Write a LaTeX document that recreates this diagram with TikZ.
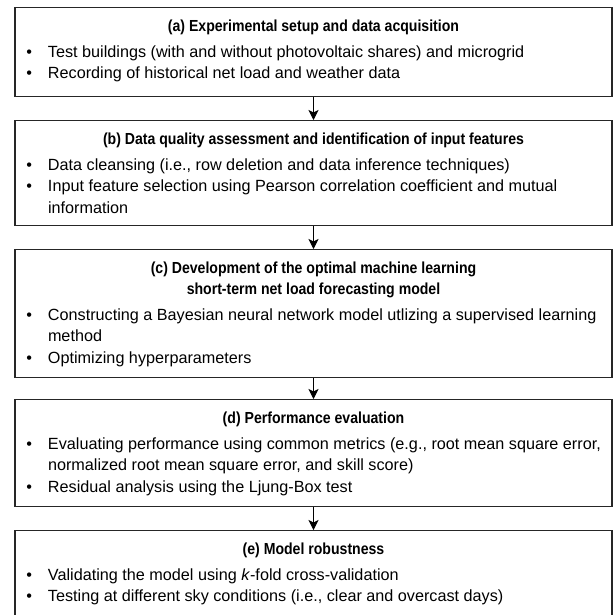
\documentclass[tikz,border=0pt]{standalone}
\usepackage{fontspec}
\setmainfont{Liberation Sans}
\newfontfamily\headfont[FakeStretch=0.88]{Liberation Sans}
\usetikzlibrary{arrows.meta}

% heading line of a stage box (centred, bold, slightly condensed)
\newcommand\stagehead[1]{{\centering\headfont\fontsize{16pt}{21pt}\selectfont\bfseries\rule{0pt}{23.5pt}#1\par}\vspace{4.5pt}}
% bulleted entry with hanging indent
\newcommand\stageitem[1]{\hangindent=33pt\hangafter=1\noindent\makebox[33pt][l]{\hspace{11.5pt}\textbullet}#1\par}
% complete contents of a stage box of given height
\newcommand\stagebody[2]{\parbox[t][#1][t]{597pt}{\fontsize{16.2pt}{21.5pt}\selectfont\raggedright\parindent=0pt #2}}

\tikzset{
  stagebox/.style={draw=black!85, line width=1.2pt, fill=white, inner sep=0pt, anchor=north},
  flow/.style={draw=black, line width=0.9pt, -{Stealth[length=10pt,width=10pt,inset=2.5pt]}}
}

\begin{document}
\begin{tikzpicture}[x=1pt,y=-1pt]
  \useasboundingbox (0,0) rectangle (616,614);
  \clip (0,0) rectangle (616,614);
  \fill[white] (0,0) rectangle (616,614);

  \node[stagebox] (a) at (313.5,7) {\stagebody{89pt}{%
    \stagehead{(a) Experimental setup and data acquisition}
    \stageitem{Test buildings (with and without photovoltaic shares) and microgrid}
    \stageitem{Recording of historical net load and weather data}}};

  \node[stagebox] (b) at (313.5,120) {\stagebody{105pt}{%
    \stagehead{(b) Data quality assessment and identification of input features}
    \stageitem{Data cleansing (i.e., row deletion and data inference techniques)}
    \stageitem{Input feature selection using Pearson correlation coefficient and mutual information}}};

  \node[stagebox] (c) at (313.5,249) {\stagebody{128pt}{%
    \stagehead{(c) Development of the optimal machine learning\\short-term net load forecasting model}
    \stageitem{Constructing a Bayesian neural network model utlizing a supervised learning method}
    \stageitem{Optimizing hyperparameters}}};

  \node[stagebox] (d) at (313.5,399) {\stagebody{107pt}{%
    \stagehead{(d) Performance evaluation}
    \stageitem{Evaluating performance using common metrics (e.g., root mean square error, normalized root mean square error, and skill score)}
    \stageitem{Residual analysis using the Ljung-Box test}}};

  \node[stagebox] (e) at (313.5,530) {\stagebody{100pt}{%
    \stagehead{(e) Model robustness}
    \stageitem{Validating the model using \textit{k}-fold cross-validation}
    \stageitem{Testing at different sky conditions (i.e., clear and overcast days)}}};

  \draw[flow] (a.south) -- (b.north);
  \draw[flow] (b.south) -- (c.north);
  \draw[flow] (c.south) -- (d.north);
  \draw[flow] (d.south) -- (e.north);
\end{tikzpicture}
\end{document}
